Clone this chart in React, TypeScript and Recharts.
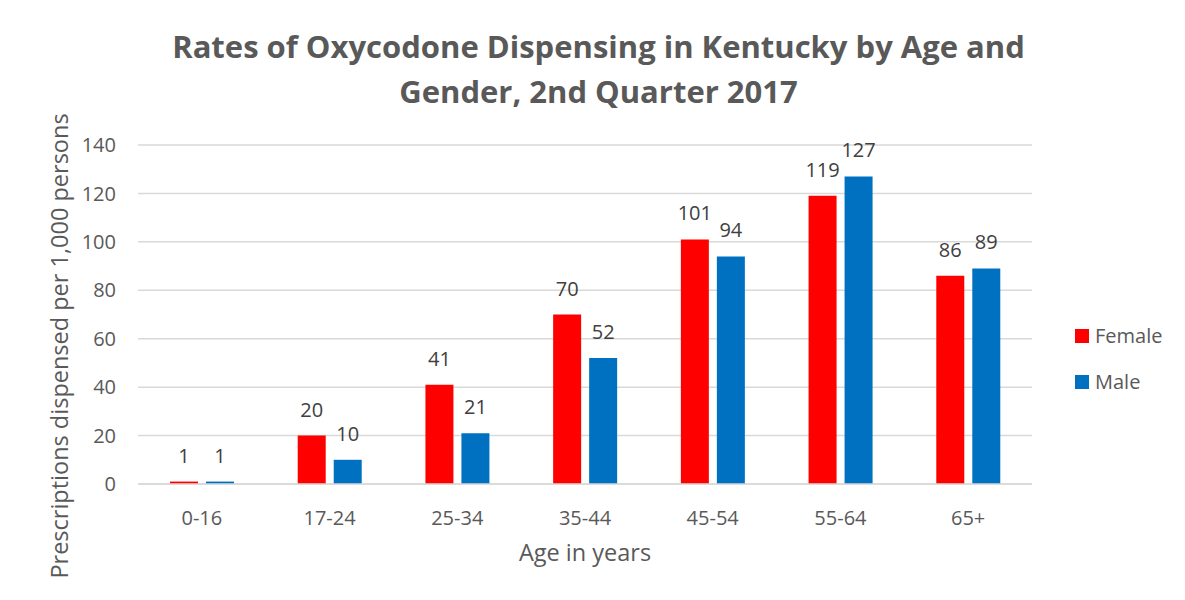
import React from "react";
import { BarChart, Bar, XAxis, YAxis, CartesianGrid, LabelList } from "recharts";

const AGE_GROUPS = ["0-16", "17-24", "25-34", "35-44", "45-54", "55-64", "65+"];
const FEMALE = [1, 20, 41, 70, 101, 119, 86];
const MALE = [1, 10, 21, 52, 94, 127, 89];
const Y_TICKS = [0, 20, 40, 60, 80, 100, 120, 140];

const RED = "#FF0000";
const BLUE = "#0070C0";
const FONT = "'Open Sans', sans-serif";

const data = AGE_GROUPS.map((age, i) => ({
  age,
  Female: FEMALE[i],
  Male: MALE[i],
}));

// rotated y-axis title, placed like the original
const YTitle = () => (
  <text
    x={59}
    y={346}
    transform="rotate(-90 59 346)"
    textAnchor="middle"
    dominantBaseline="central"
    fill="#595959"
    fontSize={23.5}
    fontFamily={FONT}
  >
    Prescriptions dispensed per 1,000 persons
  </text>
);

export default function App() {
  return (
    <div
      style={{
        position: "relative",
        width: 1185,
        height: 600,
        margin: -8,
        fontFamily: FONT,
        background: "#fff",
      }}
    >
      <div
        style={{
          position: "absolute",
          left: 5,
          top: 1,
          width: 1174,
          height: 598,
          border: "1px solid #d9d9d9",
          boxSizing: "border-box",
        }}
      />
      <div
        style={{
          position: "absolute",
          left: 0,
          top: 24,
          width: 1197,
          textAlign: "center",
          fontSize: 31,
          fontWeight: 700,
          color: "#595959",
          lineHeight: "45px",
        }}
      >
        Rates of Oxycodone Dispensing in Kentucky by Age and
        <br />
        Gender, 2nd Quarter 2017
      </div>
      <BarChart
        width={1185}
        height={600}
        data={data}
        margin={{ top: 145, right: 153, bottom: 86, left: 78 }}
        barSize={28}
        barGap={8}
        style={{ position: "absolute", left: 0, top: 0 }}
      >
        <CartesianGrid vertical={false} stroke="#d9d9d9" strokeWidth={1.5} />
        <XAxis
          dataKey="age"
          axisLine={{ stroke: "#d9d9d9", strokeWidth: 1.5 }}
          tickLine={false}
          tickMargin={21}
          tick={{ fill: "#595959", fontSize: 20, fontFamily: FONT }}
          label={{
            value: "Age in years",
            position: "insideBottom",
            offset: -47,
            fill: "#595959",
            fontSize: 23.5,
            fontFamily: FONT,
          }}
        />
        <YAxis
          width={60}
          domain={[0, 140]}
          ticks={Y_TICKS}
          axisLine={false}
          tickLine={false}
          tickMargin={16}
          tick={{ fill: "#595959", fontSize: 20, fontFamily: FONT }}
          label={{ content: () => <YTitle /> }}
        />
        <Bar dataKey="Female" fill={RED} isAnimationActive={false}>
          <LabelList
            dataKey="Female"
            position="top"
            offset={19}
            fill="#404040"
            fontSize={20}
            fontFamily={FONT}
          />
        </Bar>
        <Bar dataKey="Male" fill={BLUE} isAnimationActive={false}>
          <LabelList
            dataKey="Male"
            position="top"
            offset={19}
            fill="#404040"
            fontSize={20}
            fontFamily={FONT}
          />
        </Bar>
      </BarChart>
      {[
        { name: "Female", color: RED, top: 326 },
        { name: "Male", color: BLUE, top: 372 },
      ].map((item) => (
        <div
          key={item.name}
          style={{
            position: "absolute",
            left: 1075,
            top: item.top,
            display: "flex",
            alignItems: "center",
            fontSize: 20,
            color: "#595959",
            lineHeight: "20px",
          }}
        >
          <span
            style={{
              display: "inline-block",
              width: 14,
              height: 14,
              background: item.color,
              marginRight: 6,
            }}
          />
          {item.name}
        </div>
      ))}
    </div>
  );
}
